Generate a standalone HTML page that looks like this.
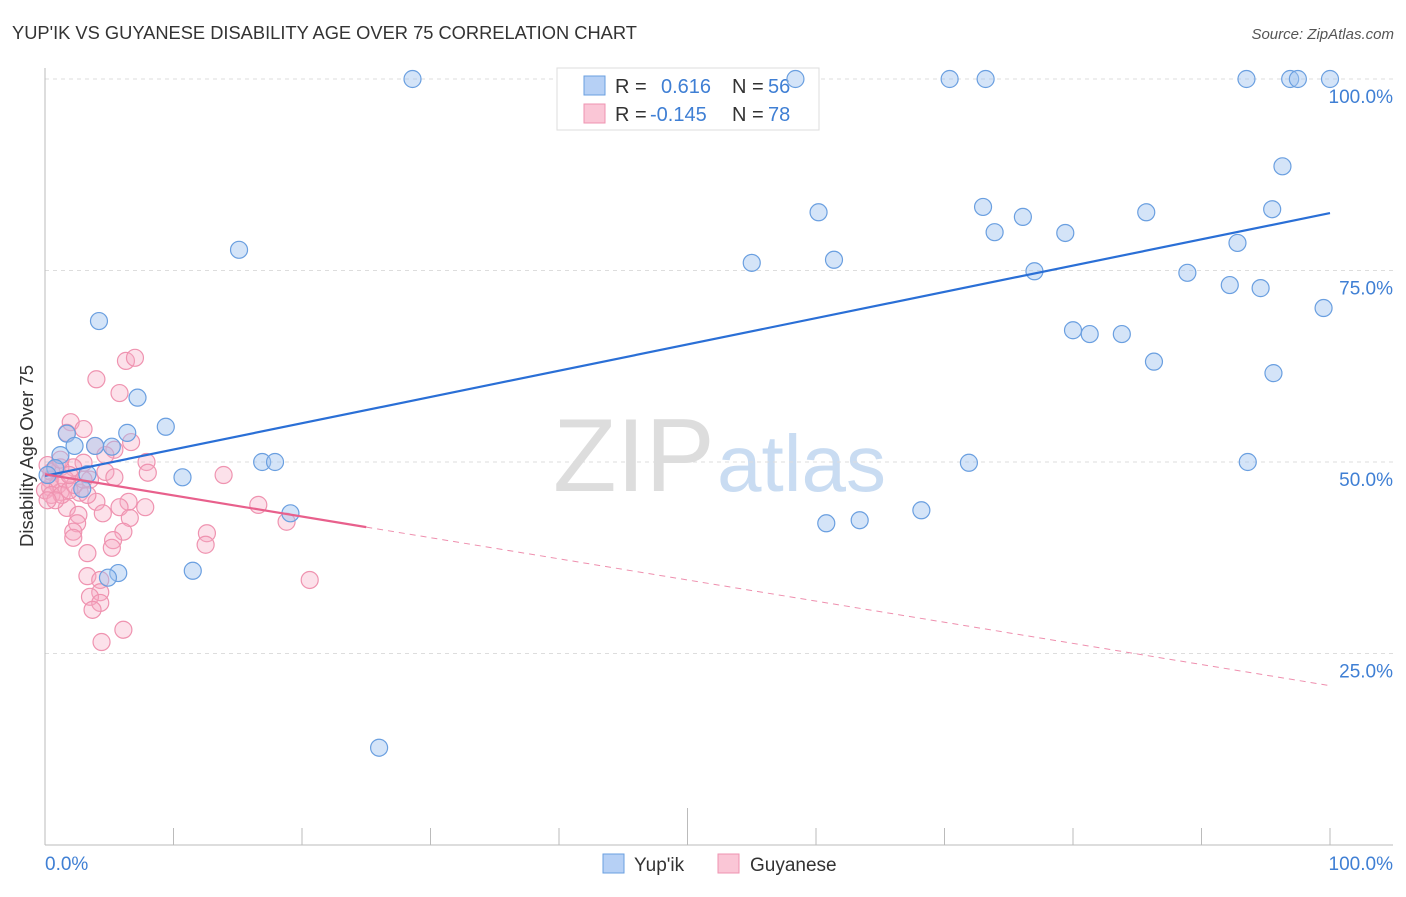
<!DOCTYPE html>
<html><head><meta charset="utf-8"><style>
body{margin:0;background:#fff;font-family:"Liberation Sans",sans-serif;}
svg text{font-family:"Liberation Sans",sans-serif;}
</style></head><body>
<svg id="chart" width="1406" height="892" xmlns="http://www.w3.org/2000/svg">
<text x="12" y="39" font-size="18.3" fill="#333">YUP'IK VS GUYANESE DISABILITY AGE OVER 75 CORRELATION CHART</text>
<text x="1394" y="39" font-size="15" fill="#555" font-style="italic" text-anchor="end">Source: ZipAtlas.com</text>
<g>
<text x="553" y="491" font-size="104" fill="#ddd" font-family="Liberation Serif, serif">ZIP</text>
<text x="717" y="491" font-size="80" fill="#c9dcf2">atlas</text>
</g>
<g id="grid"></g>
<g id="axes"></g>
<g>
<rect x="557" y="68" width="262" height="62" fill="#fff" stroke="#ddd"/>
<rect x="584" y="76" width="21" height="19" fill="#b6d0f5" stroke="#6a9fe0"/>
<rect x="584" y="104" width="21" height="19" fill="#fac6d6" stroke="#ef93b0"/>
<text x="615" y="93" font-size="20" fill="#333">R =</text>
<text x="661" y="93" font-size="20" fill="#3f7fd4">0.616</text>
<text x="732" y="93" font-size="20" fill="#333">N =</text>
<text x="768" y="93" font-size="20" fill="#3f7fd4">56</text>
<text x="615" y="121" font-size="20" fill="#333">R =</text>
<text x="650" y="121" font-size="20" fill="#3f7fd4">-0.145</text>
<text x="732" y="121" font-size="20" fill="#333">N =</text>
<text x="768" y="121" font-size="20" fill="#3f7fd4">78</text>
</g>
<g id="pts"></g>
<g id="trend"></g>
<text transform="translate(33,456) rotate(-90)" font-size="18.5" fill="#333" text-anchor="middle">Disability Age Over 75</text>
<g>
<rect x="603" y="854" width="21" height="19" fill="#b6d0f5" stroke="#6a9fe0"/>
<text x="634" y="871" font-size="19" fill="#333">Yup'ik</text>
<rect x="718" y="854" width="21" height="19" fill="#fac6d6" stroke="#ef93b0"/>
<text x="750" y="871" font-size="19" fill="#333">Guyanese</text>
</g>
</svg>
<script>
const blueX=[28.6,58.4,70.4,73.2,93.5,96.9,97.5,100,96.3,60.2,73.0,76.1,73.9,79.4,85.7,95.5,92.8,55.0,61.4,77.0,88.9,92.2,94.6,99.5,80.0,81.3,83.8,86.3,95.6,71.9,93.6,60.8,63.4,68.2,26.0,15.1,4.2,7.2,9.4,6.4,1.7,2.3,3.9,5.2,1.2,10.7,16.9,17.9,3.3,2.9,0.8,0.2,19.1,11.5,5.7,4.9];
const blueY=[100,100,100,100,100,100,100,100,88.6,82.6,83.3,82.0,80.0,79.9,82.6,83.0,78.6,76.0,76.4,74.9,74.7,73.1,72.7,70.1,67.2,66.7,66.7,63.1,61.6,49.9,50.0,42.0,42.4,43.7,12.7,77.7,68.4,58.4,54.6,53.8,53.7,52.1,52.1,52.0,50.9,48.0,50.0,50.0,48.4,46.5,49.2,48.3,43.3,35.8,35.5,34.9];
const pinkX=[6.3,7.0,4.0,5.8,2.0,3.0,1.7,3.9,6.7,5.4,4.7,7.9,8.0,3.0,2.2,1.2,0.5,4.7,5.4,13.9,0.4,1.2,2.7,4.0,6.5,7.8,1.7,4.5,5.8,16.6,18.8,6.6,2.6,2.5,2.2,6.1,12.6,12.5,5.3,5.2,2.2,3.3,20.6,3.3,4.3,4.3,3.5,4.3,3.7,6.1,4.4,0.2,0.8,0.4,1.0,1.6,0.0,0.5,1.3,1.9,0.8,0.2,2.3,3.3,3.5,1.2,1.9,3.0];
const pinkY=[63.2,63.6,60.8,59.0,55.2,54.3,53.8,52.1,52.6,51.6,50.9,50.0,48.6,49.9,49.3,49.3,48.7,48.7,48.0,48.3,46.7,46.1,46.0,44.8,44.8,44.1,44.0,43.3,44.1,44.4,42.2,42.7,43.1,42.0,40.9,40.9,40.7,39.2,39.8,38.8,40.1,38.1,34.6,35.1,34.6,33.0,32.4,31.6,30.7,28.1,26.5,49.6,49.0,47.7,47.0,47.7,46.3,45.7,45.7,46.3,45.0,45.0,47.0,45.7,47.7,50.3,48.3,47.7];
const yTicks=[25,50,75,100];
const yTickLabels=["25.0%","50.0%","75.0%","100.0%"];
const blueTrend=[48.2,82.5];
const pinkTrend=[48.4,20.8];
const pinkSolidEnd=25;
const NS="http://www.w3.org/2000/svg";
const sx=v=>45+v*12.85, sy=v=>845-v*7.66;
function mk(tag,attrs,parent){const e=document.createElementNS(NS,tag);for(const k in attrs)e.setAttribute(k,attrs[k]);document.getElementById(parent).appendChild(e);return e;}
yTicks.forEach((t,i)=>{
 const g=mk('line',{x1:45,x2:1393,y1:sy(t),y2:sy(t),stroke:'#ddd','stroke-dasharray':'4,4'},'grid');
 
 
 const l=mk('text',{x:1393,y:sy(t)+24,'font-size':19,fill:'#3f7fd4','text-anchor':'end'},'axes');
 l.textContent=yTickLabels[i];
 
 
});
mk('line',{x1:45,x2:45,y1:68,y2:845,stroke:'#bbb'},'axes');
mk('line',{x1:45,x2:1393,y1:845,y2:845,stroke:'#bbb'},'axes');
for(let k=1;k<=10;k++){const t=mk('line',{x1:sx(k*10),x2:sx(k*10),y1:k==5?808:828,y2:845,stroke:'#bbb'},'axes');
 
 }
const x0=mk('text',{x:45,y:870,'font-size':19,fill:'#3f7fd4'},'axes');x0.textContent='0.0%';


const x1=mk('text',{x:1393,y:870,'font-size':19,fill:'#3f7fd4','text-anchor':'end'},'axes');x1.textContent='100.0%';


pinkX.forEach((x,i)=>{const c=mk('circle',{cx:sx(x),cy:sy(pinkY[i]),r:8.5,fill:'rgba(245,170,195,0.35)',stroke:'#ef93b0','stroke-width':1.2},'pts');
 
 });
blueX.forEach((x,i)=>{const c=mk('circle',{cx:sx(x),cy:sy(blueY[i]),r:8.5,fill:'rgba(160,196,240,0.45)',stroke:'#6a9fe0','stroke-width':1.2},'pts');
 
 });
const bt=mk('line',{x1:sx(0),y1:sy(blueTrend[0]),x2:sx(100),y2:sy(blueTrend[1]),stroke:'#2a6fd6','stroke-width':2.2},'trend');


const pm=pinkTrend[0]+(pinkTrend[1]-pinkTrend[0])*pinkSolidEnd/100;
const ps=mk('line',{x1:sx(0),y1:sy(pinkTrend[0]),x2:sx(pinkSolidEnd),y2:sy(pm),stroke:'#e8608c','stroke-width':2.2},'trend');


const pd=mk('line',{x1:sx(pinkSolidEnd),y1:sy(pm),x2:sx(100),y2:sy(pinkTrend[1]),stroke:'#e8608c','stroke-width':1,'stroke-dasharray':'6,5','opacity':0.7},'trend');


</script>
</body></html>
